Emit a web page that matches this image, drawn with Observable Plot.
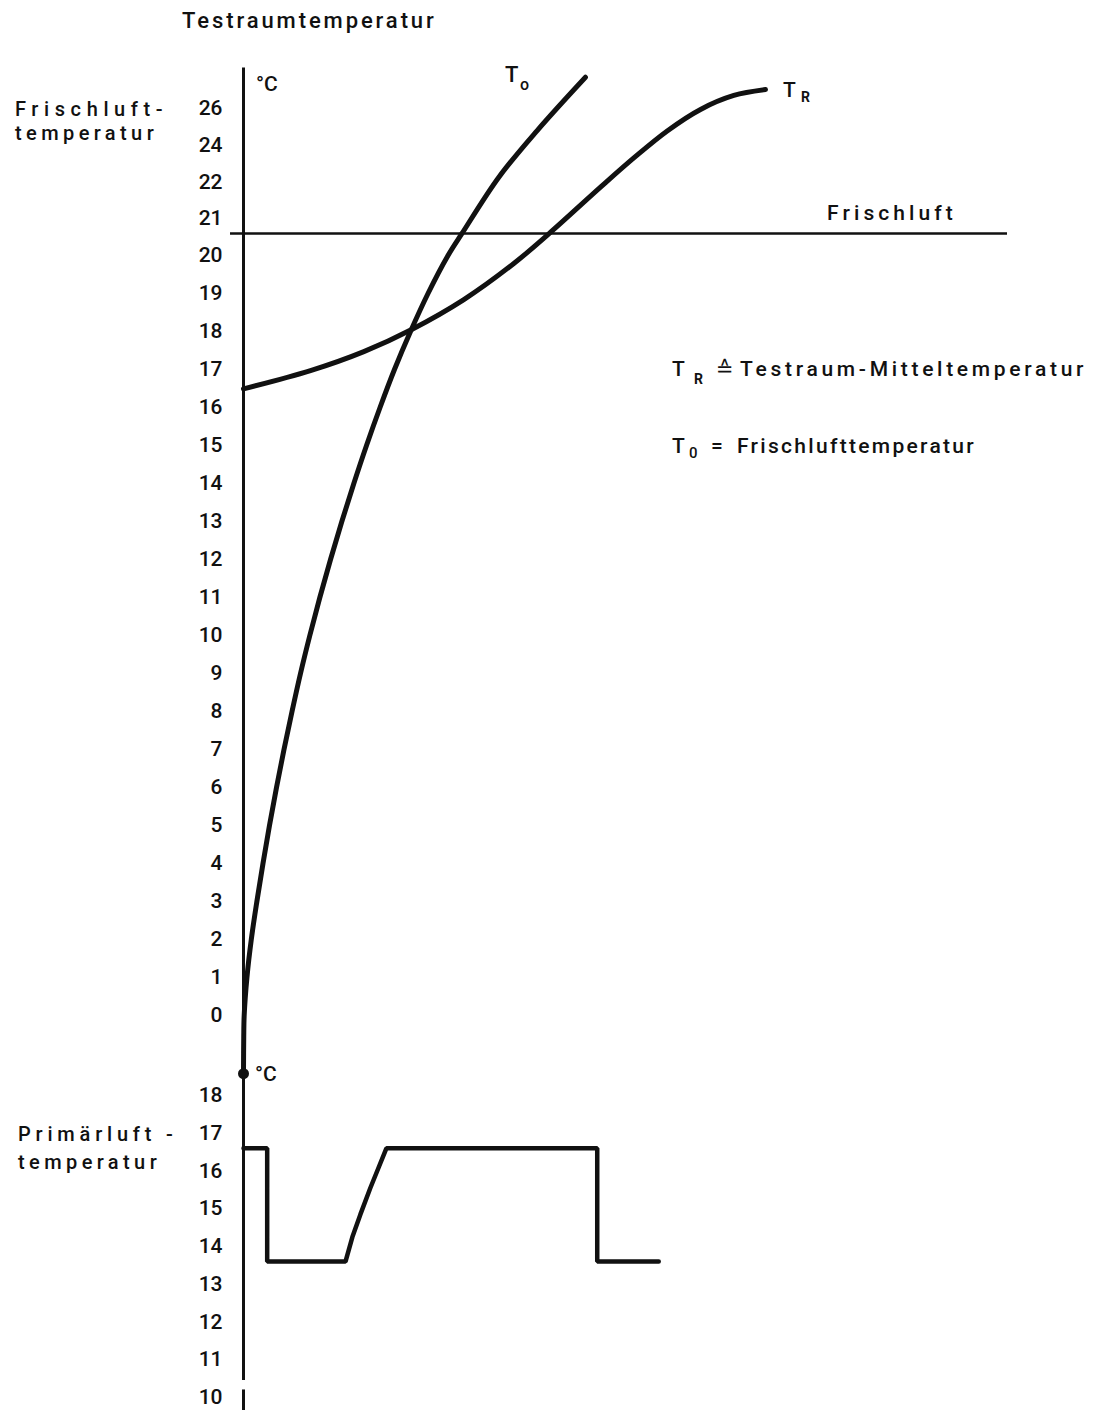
<!DOCTYPE html>
<html><head><meta charset="utf-8">
<script src="https://cdn.jsdelivr.net/npm/d3@7"></script>
<script src="https://cdn.jsdelivr.net/npm/@observablehq/plot@0.6"></script>
<style>
html,body{margin:0;padding:0;background:#fff;overflow:hidden}
#wrap{position:relative;width:1097px;height:1410px;font-family:Roboto,"DejaVu Sans",sans-serif;font-weight:500;color:#111}
.t{position:absolute;white-space:pre;line-height:1}
.panel{position:absolute;left:0}
</style></head><body><div id="wrap"></div>
<script>
// ---- data ----
// upper panel: Frischluft- / Testraum-temperatur, °C
const upperTicks = [0,1,2,3,4,5,6,7,8,9,10,11,12,13,14,15,16,17,18,19,20,21,22,24,26];
// time axis is unlabelled in the original: arbitrary units 0..100
const t0Time = [0, 0.03, 0.09, 0.45, 1.02, 1.75, 2.55, 3.40, 4.32, 5.30, 6.35, 7.46, 8.68, 9.99, 11.39, 12.87, 14.44, 16.10, 17.87, 19.76, 21.86, 24.15, 26.77, 28.60, 33.42, 38.44, 44.76];
const t0Temp = [-1.5, -0.6, 0, 1, 2, 3, 4, 5, 6, 7, 8, 9, 10, 11, 12, 13, 14, 15, 16, 17, 18, 19, 20, 20.6, 22.26, 24.8, 27.7];
const tRTime = [0, 8.77, 15.75, 22.08, 28.84, 35.38, 39.96, 46.73, 51.09, 55.46, 59.82, 64.18, 68.32];
const tRTemp = [16.49, 16.97, 17.47, 18.06, 18.84, 19.79, 20.59, 21.86, 23.31, 24.78, 25.95, 26.71, 27.03];
const frischluftTemp = 20.6;
// lower panel: Primärluft-temperatur, °C
const lowerTicks = [10,11,12,13,14,15,16,17,18];
const primTime = [0, 3.1, 3.1, 13.35, 14.25, 15.3, 16.6, 17.7, 18.7, 46.3, 46.3, 54.35];
const primTemp = [16.6, 16.6, 13.6, 13.6, 14.25, 14.85, 15.55, 16.1, 16.6, 16.6, 13.6, 13.6];

// ---- layout ----
const W = 1097, ML = 243, MR = 90;
const upperH = 1080, lowerH = 330;
const yZero = 1015, unitLow = 38, unitHigh = 36.75;   // label slots on the upper axis
const upperRange = upperTicks.map((v, i) => i <= 20 ? yZero - unitLow * i : (yZero - unitLow * 20) - unitHigh * (i - 20));
const ink = "#111";
const font = {fontFamily: "Roboto, 'DejaVu Sans', sans-serif", fontSize: "21px", fontWeight: 500, color: ink, background: "transparent"};

const idx = a => d3.range(a.length);

const upper = Plot.plot({
  width: W, height: upperH, marginLeft: ML, marginRight: MR,
  style: font,
  x: {domain: [0, 100], axis: null},
  y: {type: "linear", domain: upperTicks, range: upperRange, ticks: upperTicks, tickSize: 0, tickPadding: 21, label: null},
  marks: [
    Plot.ruleX([0], {y1: -1.71, y2: 28.2, stroke: ink, strokeWidth: 3}),
    Plot.ruleY([frischluftTemp], {x1: -1.7, x2: 100, stroke: ink, strokeWidth: 2.5}),
    Plot.line(idx(tRTime), {x: i => tRTime[i], y: i => tRTemp[i], curve: "catmull-rom", stroke: ink, strokeWidth: 5}),
    Plot.line(idx(t0Time), {x: i => t0Time[i], y: i => t0Temp[i], curve: "catmull-rom", stroke: ink, strokeWidth: 5}),
    Plot.dot([0], {x: 0, y: -1.53, r: 5.5, fill: ink, stroke: null})
  ]
});

const lower = Plot.plot({
  width: W, height: lowerH, marginLeft: ML, marginRight: MR, marginTop: 15, marginBottom: 13,
  style: font,
  x: {domain: [0, 100], axis: null},
  y: {domain: [10, 18], ticks: lowerTicks, tickSize: 0, tickPadding: 21, label: null},
  marks: [
    Plot.ruleX([0], {y1: 18.4, y2: 10.45, stroke: ink, strokeWidth: 3}),
    Plot.ruleX([0], {y1: 10.2, y2: 9.6, stroke: ink, strokeWidth: 3}),
    Plot.line(idx(primTime), {x: i => primTime[i], y: i => primTemp[i], stroke: ink, strokeWidth: 4.5, strokeLinejoin: "miter"})
  ]
});

const wrap = document.getElementById("wrap");
function panel(node, top) {
  const d = document.createElement("div");
  d.className = "panel"; d.style.top = top + "px";
  d.appendChild(node); wrap.appendChild(d);
}
panel(upper, 0);
panel(lower, upperH);

function put(text, left, baseline, fs, opts = {}) {
  const d = document.createElement("div");
  d.className = "t";
  d.style.left = left + "px";
  d.style.top = (baseline - 0.8415 * fs) + "px";
  d.style.fontSize = fs + "px";
  if (opts.ls) d.style.letterSpacing = opts.ls + "px";
  if (opts.bold) d.style.fontWeight = "bold";
  d.textContent = text;
  wrap.appendChild(d);
}
put("Testraumtemperatur", 182, 29, 22, {ls: 2.9});
put("Frischluft-", 15, 116, 20, {ls: 5.6});
put("temperatur", 15, 140, 20, {ls: 4.4});
put("°C", 256, 92, 21);
put("T", 505, 83, 22);
put("o", 520, 90, 16);
put("T", 783, 98, 21);
put("R", 801, 102, 14, {bold: true});
put("Frischluft", 827, 221, 21, {ls: 4.1});
put("T", 672, 377, 21);
put("R", 694, 384, 14, {bold: true});
put("≙", 716, 377, 21);
put("Testraum-Mitteltemperatur", 740, 377, 21, {ls: 3.7});
put("T", 672, 454, 21);
put("0", 689, 459, 15);
put("=", 711, 454, 21);
put("Frischlufttemperatur", 737, 454, 21, {ls: 2.3});
put("°C", 255, 1082, 21);
put("Primärluft -", 18, 1141, 20, {ls: 4.8});
put("temperatur", 18, 1169, 20, {ls: 4.4});
</script></body></html>
